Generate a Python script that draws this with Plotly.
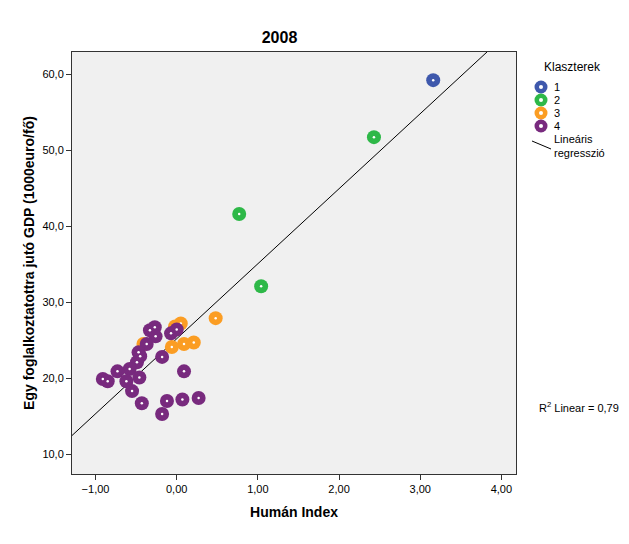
import numpy as np
import plotly.graph_objects as go

title = "2008"
x_title = "Humán Index"
y_title = "Egy foglalkoztatottra jutó GDP (1000euro/fő)"
legend_title = "Klaszterek"
reg_label = ["Lineáris", "regresszió"]

c1_x = [3.16]
c1_y = [59.2]
c2_x = [2.43, 0.77, 1.04]
c2_y = [51.7, 41.6, 32.1]
c3_x = [0.48, 0.05, -0.02, 0.21, 0.09, -0.06, -0.41]
c3_y = [27.9, 27.2, 26.8, 24.7, 24.5, 24.1, 24.5]
c4_x = [-0.33, -0.27, -0.26, -0.07, 0.00, -0.37, -0.47, -0.45, -0.18, -0.49, -0.58,
        -0.73, -0.91, -0.85, -0.62, -0.46, 0.09, -0.55, -0.43, -0.12, 0.07, 0.27, -0.18]
c4_y = [26.3, 26.7, 25.5, 25.9, 26.4, 24.5, 23.4, 22.9, 22.8, 22.1, 21.2,
        20.9, 19.9, 19.6, 19.6, 20.1, 20.9, 18.3, 16.7, 17.0, 17.2, 17.4, 15.3]

clusters = ["1", "2", "3", "4"]
colors = ["#3e58ac", "#2eb848", "#fb9d23", "#782a7e"]
xs = [c1_x, c2_x, c3_x, c4_x]
ys = [c1_y, c2_y, c3_y, c4_y]

all_x = np.array(sum(xs, []))
all_y = np.array(sum(ys, []))
slope, intercept = np.polyfit(all_x, all_y, 1)
pred = slope * all_x + intercept
r2 = 1 - np.sum((all_y - pred) ** 2) / np.sum((all_y - all_y.mean()) ** 2)

x_range = [-1.29, 4.18]
y_range = [7.4, 62.9]

W, H = 629, 544
L, R, T, B = 72, 516, 52, 474  # plot area in pixels


def px(xp):
    return (xp - L) / (R - L)


def py(yp):
    return (B - yp) / (B - T)


fig = go.Figure()

lx = np.array(x_range)
fig.add_trace(go.Scatter(x=lx, y=slope * lx + intercept, mode="lines",
                         line=dict(color="black", width=1), showlegend=False,
                         hoverinfo="skip"))

for name, col, x, y in zip(clusters, colors, xs, ys):
    fig.add_trace(go.Scatter(x=x, y=y, mode="markers", name=name,
                             marker=dict(size=14, color=col, line=dict(width=0)),
                             showlegend=False))
    fig.add_trace(go.Scatter(x=x, y=y, mode="markers",
                             marker=dict(size=2.5, color="white", line=dict(width=0)),
                             showlegend=False, hoverinfo="skip"))

# manual legend
shapes = []
annotations = []
annotations.append(dict(text=legend_title, xref="paper", yref="paper",
                        x=px(542), y=py(67), xanchor="left", yanchor="middle",
                        showarrow=False, font=dict(size=12)))
item_y = [87, 100, 113, 126]
for name, col, yy in zip(clusters, colors, item_y):
    for d, c in ((13, col), (4, "white")):
        shapes.append(dict(type="circle", xref="paper", yref="paper",
                           xsizemode="pixel", ysizemode="pixel",
                           xanchor=px(541), yanchor=py(yy),
                           x0=-d / 2, x1=d / 2, y0=-d / 2, y1=d / 2,
                           fillcolor=c, line=dict(width=0)))
    annotations.append(dict(text=name, xref="paper", yref="paper",
                            x=px(552), y=py(yy), xanchor="left", yanchor="middle",
                            showarrow=False, font=dict(size=11)))
shapes.append(dict(type="line", xref="paper", yref="paper",
                   x0=px(532), y0=py(141), x1=px(551), y1=py(149),
                   line=dict(color="black", width=1)))
annotations.append(dict(text="<br>".join(reg_label), xref="paper", yref="paper",
                        x=px(552), y=py(146), xanchor="left", yanchor="middle",
                        align="left", showarrow=False, font=dict(size=11)))
annotations.append(dict(text="R<sup>2</sup> Linear = " + f"{r2:.2f}".replace(".", ","),
                        xref="paper", yref="paper", x=px(537), y=py(407),
                        xanchor="left", yanchor="middle", showarrow=False,
                        font=dict(size=11)))

font = "Liberation Sans, Arial, sans-serif"
fig.update_layout(
    width=W, height=H,
    margin=dict(l=L, r=W - R, t=T, b=H - B, autoexpand=False),
    paper_bgcolor="white", plot_bgcolor="#f0f0f0",
    separators=", ",
    showlegend=False,
    font=dict(family=font, size=11, color="black"),
    title=dict(text="<b>" + title + "</b>", x=(L + R) / 2 / W, xanchor="center",
               xref="paper", y=1 - 37 / H, yanchor="middle", font=dict(size=16)),
    xaxis=dict(range=x_range, tickvals=[-1, 0, 1, 2, 3, 4], tickformat=".2f",
               showgrid=False, zeroline=False, showline=True, mirror=True,
               linecolor="#333333", linewidth=1, ticks="outside", ticklen=5,
               tickcolor="#333333",
               title=dict(text="<b>" + x_title + "</b>", font=dict(size=14), standoff=12)),
    yaxis=dict(range=y_range, tickvals=[10, 20, 30, 40, 50, 60], tickformat=".1f",
               showgrid=False, zeroline=False, showline=True, mirror=True,
               linecolor="#333333", linewidth=1, ticks="outside", ticklen=5,
               tickcolor="#333333",
               title=dict(text="<b>" + y_title + "</b>", font=dict(size=14), standoff=4)),
    shapes=shapes,
    annotations=annotations,
)

fig.write_html("out.html")
